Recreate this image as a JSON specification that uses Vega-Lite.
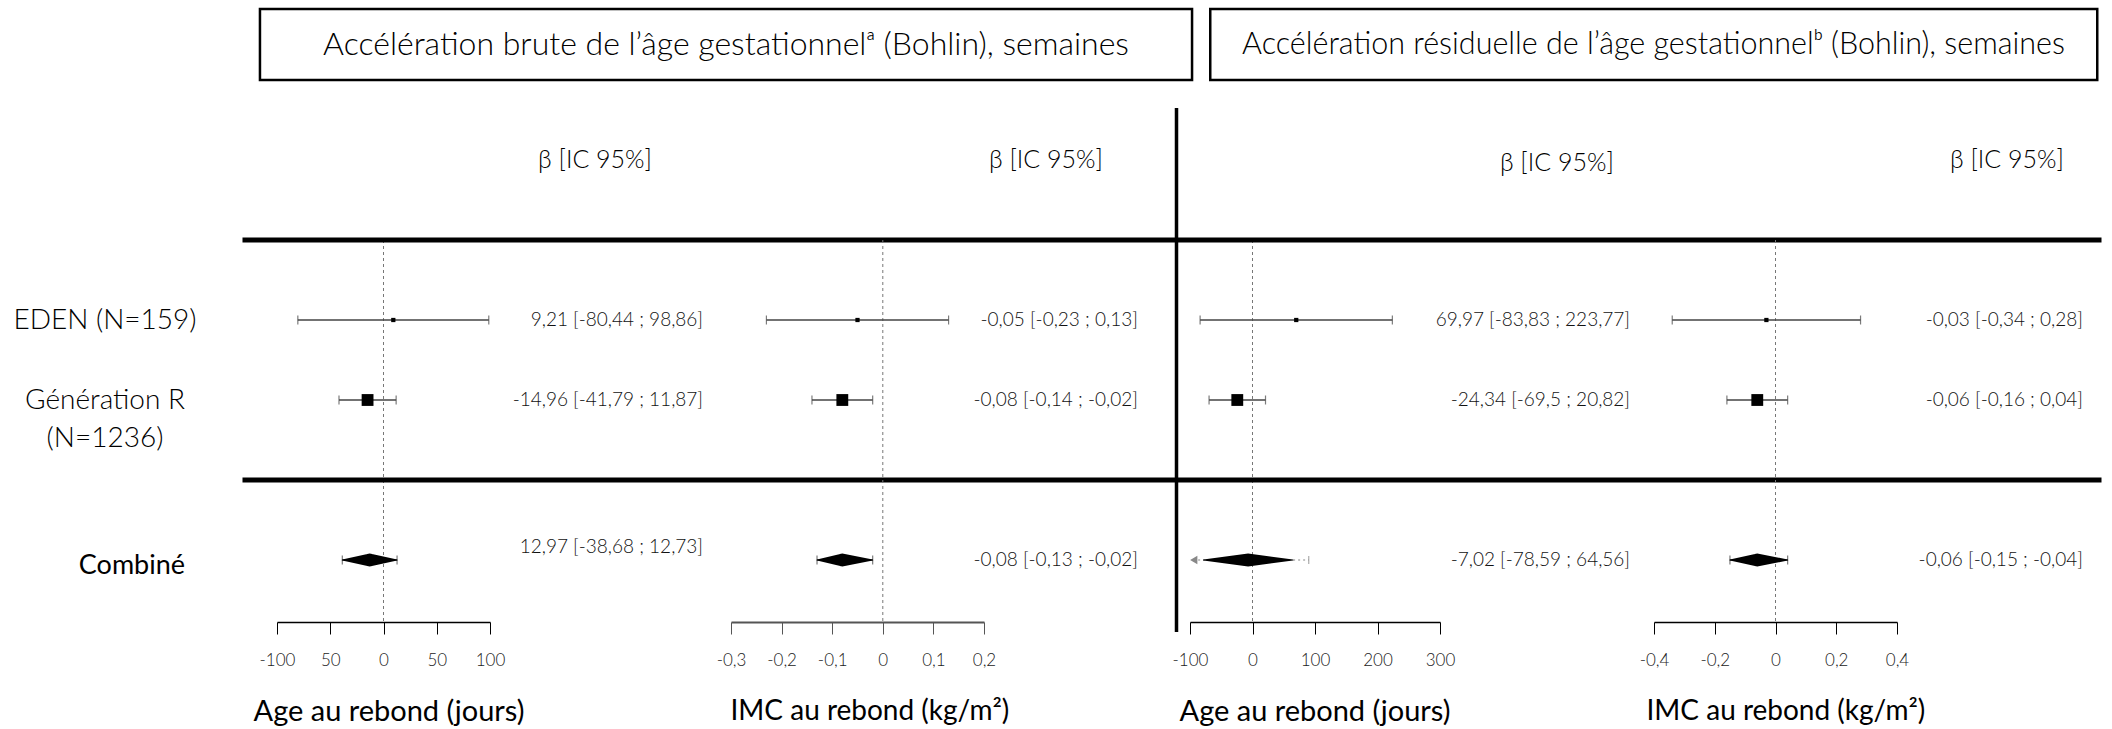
{
  "$schema": "https://vega.github.io/schema/vega-lite/v6.json",
  "width": 2112,
  "height": 729,
  "padding": 0,
  "autosize": {"type": "none"},
  "background": "white",
  "config": {
    "view": {"stroke": null},
    "font": "Lato",
    "axis": {"grid": false, "labelFont": "Lato", "titleFont": "Lato"}
  },
  "datasets": {
    "resultats": [
      {"panneau": "age_brute", "etude": "EDEN (N=159)", "n": 159, "ligne": 2, "type": "étude", "beta": 9.21, "ic_inf": -80.44, "ic_sup": 98.86, "texte": "9,21 [-80,44 ; 98,86]"},
      {"panneau": "age_brute", "etude": "Génération R\n(N=1236)", "n": 1236, "ligne": 3, "type": "étude", "beta": -14.96, "ic_inf": -41.79, "ic_sup": 11.87, "texte": "-14,96 [-41,79 ; 11,87]"},
      {"panneau": "age_brute", "etude": "Combiné", "ligne": 5, "type": "synthèse", "beta": -12.97, "ic_inf": -38.68, "ic_sup": 12.73, "texte": "12,97 [-38,68 ; 12,73]"},
      {"panneau": "imc_brute", "etude": "EDEN (N=159)", "n": 159, "ligne": 2, "type": "étude", "beta": -0.05, "ic_inf": -0.23, "ic_sup": 0.13, "texte": "-0,05 [-0,23 ; 0,13]"},
      {"panneau": "imc_brute", "etude": "Génération R\n(N=1236)", "n": 1236, "ligne": 3, "type": "étude", "beta": -0.08, "ic_inf": -0.14, "ic_sup": -0.02, "texte": "-0,08 [-0,14 ; -0,02]"},
      {"panneau": "imc_brute", "etude": "Combiné", "ligne": 5, "type": "synthèse", "beta": -0.08, "ic_inf": -0.13, "ic_sup": -0.02, "texte": "-0,08 [-0,13 ; -0,02]"},
      {"panneau": "age_resid", "etude": "EDEN (N=159)", "n": 159, "ligne": 2, "type": "étude", "beta": 69.97, "ic_inf": -83.83, "ic_sup": 223.77, "texte": "69,97 [-83,83 ; 223,77]"},
      {"panneau": "age_resid", "etude": "Génération R\n(N=1236)", "n": 1236, "ligne": 3, "type": "étude", "beta": -24.34, "ic_inf": -69.5, "ic_sup": 20.82, "texte": "-24,34 [-69,5 ; 20,82]"},
      {"panneau": "age_resid", "etude": "Combiné", "ligne": 5, "type": "synthèse", "beta": -7.02, "ic_inf": -78.59, "ic_sup": 64.56, "texte": "-7,02 [-78,59 ; 64,56]"},
      {"panneau": "imc_resid", "etude": "EDEN (N=159)", "n": 159, "ligne": 2, "type": "étude", "beta": -0.03, "ic_inf": -0.34, "ic_sup": 0.28, "texte": "-0,03 [-0,34 ; 0,28]"},
      {"panneau": "imc_resid", "etude": "Génération R\n(N=1236)", "n": 1236, "ligne": 3, "type": "étude", "beta": -0.06, "ic_inf": -0.16, "ic_sup": 0.04, "texte": "-0,06 [-0,16 ; 0,04]"},
      {"panneau": "imc_resid", "etude": "Combiné", "ligne": 5, "type": "synthèse", "beta": -0.06, "ic_inf": -0.15, "ic_sup": 0.04, "texte": "-0,06 [-0,15 ; -0,04]"}
    ],
    "groupes": [
      {"groupe": "brute", "titre": "Accélération brute de l’âge gestationnelᵃ (Bohlin), semaines"},
      {"groupe": "résiduelle", "titre": "Accélération résiduelle de l’âge gestationnelᵇ (Bohlin), semaines"}
    ]
  },
  "data": {"name": "resultats"},
  "layer": [
    {
      "layer": [
        {
          "data": {"values": [{}]},
          "mark": {"type": "rule", "stroke": "#777", "strokeWidth": 1, "strokeDash": [3, 3]},
          "encoding": {
            "x": {"datum": 0, "type": "quantitative",
              "scale": {"domain": [-100, 100], "range": [277, 490], "nice": false, "zero": false},
              "axis": {"orient": "bottom", "offset": -107, "values": [-100, -50, 0, 50, 100],
                "labelExpr": "datum.value === -50 ? '50' : replace(format(datum.value, '~g'), '\u2212', '-')",
                "title": "Age au rebond (jours)", "titleX": 253, "titleY": 89, "titleAlign": "left", "titleBaseline": "middle",
                "titleFontSize": 29, "titleFontWeight": 400, "titleColor": "black",
                "tickSize": 12, "tickColor": "black", "tickWidth": 1, "domainColor": "black", "domainWidth": 1.5,
                "labelPadding": 18, "labelFontSize": 17, "labelFontWeight": 300, "labelColor": "#222", "labelFlush": false, "labelOverlap": false}},
            "y": {"datum": 1, "type": "quantitative", "scale": {"domain": [-2, 7.1125], "reverse": true, "nice": false, "zero": false}, "axis": null},
            "y2": {"datum": 5.775}
          }
        },
        {
          "data": {"values": [{}]},
          "mark": {"type": "rule", "stroke": "black", "strokeWidth": 5},
          "encoding": {
            "x": {"datum": -132.4, "type": "quantitative"}, "x2": {"datum": 744.6},
            "y": {"datum": 1, "type": "quantitative", "axis": null}
          }
        },
        {
          "data": {"values": [{}]},
          "mark": {"type": "rule", "stroke": "black", "strokeWidth": 5},
          "encoding": {
            "x": {"datum": -132.4, "type": "quantitative"}, "x2": {"datum": 744.6},
            "y": {"datum": 4, "type": "quantitative", "axis": null}
          }
        },
        {
          "data": {"name": "groupes"},
          "transform": [{"filter": "datum.groupe === 'brute'"}],
          "mark": {"type": "rect", "fill": "white", "stroke": "black", "strokeWidth": 2.5},
          "encoding": {
            "x": {"datum": -116, "type": "quantitative"}, "x2": {"datum": 759.2},
            "y": {"datum": -1.8875, "type": "quantitative", "axis": null}, "y2": {"datum": -1}
          }
        },
        {
          "data": {"name": "groupes"},
          "transform": [{"filter": "datum.groupe === 'brute'"}],
          "mark": {"type": "text", "fontSize": 32, "fontWeight": 300, "baseline": "middle", "align": "center", "color": "black"},
          "encoding": {
            "x": {"datum": 321.6, "type": "quantitative"},
            "y": {"datum": -1.44375, "type": "quantitative", "axis": null},
            "text": {"field": "titre"}
          }
        },
        {
          "data": {"values": [{}]},
          "mark": {"type": "text", "fontSize": 25, "fontWeight": 300, "baseline": "middle", "align": "center", "color": "black"},
          "encoding": {
            "x": {"datum": 198.6, "type": "quantitative"},
            "y": {"datum": 0, "type": "quantitative", "axis": null},
            "text": {"value": "β [IC 95%]"}
          }
        },
        {
          "transform": [{"filter": "datum.panneau === 'age_brute' && datum.type === 'étude'"}],
          "mark": {"type": "text", "fontSize": 28, "fontWeight": 300, "align": "center", "baseline": "alphabetic", "dy": 9, "lineBreak": "\n", "lineHeight": 38, "color": "black"},
          "encoding": {
            "x": {"datum": -261.5, "type": "quantitative"},
            "y": {"field": "ligne", "type": "quantitative", "axis": null},
            "text": {"field": "etude"}
          }
        },
        {
          "transform": [{"filter": "datum.panneau === 'age_brute' && datum.type === 'synthèse'"}],
          "mark": {"type": "text", "fontSize": 27, "fontWeight": 400, "align": "center", "baseline": "middle", "dy": 6, "color": "black"},
          "encoding": {
            "x": {"datum": -236.2, "type": "quantitative"},
            "y": {"field": "ligne", "type": "quantitative", "axis": null},
            "text": {"field": "etude"}
          }
        },
        {
          "transform": [{"filter": "datum.panneau === 'age_brute'"}],
          "mark": {"type": "rule", "stroke": "#444", "strokeWidth": 1.5},
          "encoding": {
            "x": {"field": "ic_inf", "type": "quantitative"}, "x2": {"field": "ic_sup"},
            "y": {"field": "ligne", "type": "quantitative", "axis": null}
          }
        },
        {
          "transform": [{"filter": "datum.panneau === 'age_brute'"}],
          "mark": {"type": "tick", "orient": "vertical", "size": 9, "thickness": 1.2, "color": "#444"},
          "encoding": {
            "x": {"field": "ic_inf", "type": "quantitative"},
            "y": {"field": "ligne", "type": "quantitative", "axis": null}
          }
        },
        {
          "transform": [{"filter": "datum.panneau === 'age_brute'"}],
          "mark": {"type": "tick", "orient": "vertical", "size": 9, "thickness": 1.2, "color": "#444"},
          "encoding": {
            "x": {"field": "ic_sup", "type": "quantitative"},
            "y": {"field": "ligne", "type": "quantitative", "axis": null}
          }
        },
        {
          "transform": [{"filter": "datum.panneau === 'age_brute' && datum.type === 'étude'"}],
          "mark": {"type": "point", "shape": "square", "filled": true, "color": "black", "opacity": 1},
          "encoding": {
            "x": {"field": "beta", "type": "quantitative"},
            "y": {"field": "ligne", "type": "quantitative", "axis": null},
            "size": {"field": "n", "type": "quantitative", "scale": {"domain": [0, 1236], "range": [0, 140]}, "legend": null}
          }
        },
        {
          "transform": [
            {"filter": "datum.panneau === 'age_brute' && datum.type === 'synthèse'"},
            {"fold": ["ic_inf", "beta", "ic_sup"], "as": ["borne", "valeur"]}
          ],
          "mark": {"type": "trail", "color": "black"},
          "encoding": {
            "x": {"field": "valeur", "type": "quantitative"},
            "y": {"field": "ligne", "type": "quantitative", "axis": null},
            "order": {"field": "valeur", "type": "quantitative"},
            "size": {"condition": {"test": "datum.borne === 'beta'", "value": 13}, "value": 0}
          }
        },
        {
          "transform": [{"filter": "datum.panneau === 'age_brute' && datum.type === 'étude'"}],
          "mark": {"type": "text", "fontSize": 19, "fontWeight": 300, "align": "right", "baseline": "middle", "color": "#111"},
          "encoding": {
            "x": {"datum": 300, "type": "quantitative"},
            "y": {"field": "ligne", "type": "quantitative", "axis": null},
            "text": {"field": "texte"}
          }
        },
        {
          "transform": [{"filter": "datum.panneau === 'age_brute' && datum.type === 'synthèse'"}],
          "mark": {"type": "text", "fontSize": 19, "fontWeight": 300, "align": "right", "baseline": "middle", "dy": -13, "color": "#111"},
          "encoding": {
            "x": {"datum": 300, "type": "quantitative"},
            "y": {"field": "ligne", "type": "quantitative", "axis": null},
            "text": {"field": "texte"}
          }
        }
      ],
      "resolve": {"scale": {"size": "independent"}}
    },
    {
      "layer": [
        {
          "data": {"values": [{}]},
          "mark": {"type": "rule", "stroke": "#777", "strokeWidth": 1, "strokeDash": [3, 3]},
          "encoding": {
            "x": {"datum": 0, "type": "quantitative",
              "scale": {"domain": [-0.3, 0.2], "range": [731, 984], "nice": false, "zero": false},
              "axis": {"orient": "bottom", "offset": -107, "values": [-0.3, -0.2, -0.1, 0, 0.1, 0.2],
                "labelExpr": "replace(replace(format(datum.value, '~g'), '.', ','), '\u2212', '-')",
                "title": "IMC au rebond (kg/m²)", "titleX": 730, "titleY": 89, "titleAlign": "left", "titleBaseline": "middle",
                "titleFontSize": 28, "titleFontWeight": 400, "titleColor": "black",
                "tickSize": 12, "tickColor": "#555", "tickWidth": 1, "domainColor": "#555", "domainWidth": 2,
                "labelPadding": 18, "labelFontSize": 17, "labelFontWeight": 300, "labelColor": "#222", "labelFlush": false, "labelOverlap": false}},
            "y": {"datum": 1, "type": "quantitative", "scale": {"domain": [-2, 7.1125], "reverse": true, "nice": false, "zero": false}, "axis": null},
            "y2": {"datum": 5.775}
          }
        },
        {
          "data": {"values": [{}]},
          "mark": {"type": "text", "fontSize": 25, "fontWeight": 300, "baseline": "middle", "align": "center", "color": "black"},
          "encoding": {
            "x": {"datum": 0.3225, "type": "quantitative"},
            "y": {"datum": 0, "type": "quantitative", "axis": null},
            "text": {"value": "β [IC 95%]"}
          }
        },
        {
          "transform": [{"filter": "datum.panneau === 'imc_brute'"}],
          "mark": {"type": "rule", "stroke": "#444", "strokeWidth": 1.5},
          "encoding": {
            "x": {"field": "ic_inf", "type": "quantitative"}, "x2": {"field": "ic_sup"},
            "y": {"field": "ligne", "type": "quantitative", "axis": null}
          }
        },
        {
          "transform": [{"filter": "datum.panneau === 'imc_brute'"}],
          "mark": {"type": "tick", "orient": "vertical", "size": 9, "thickness": 1.2, "color": "#444"},
          "encoding": {
            "x": {"field": "ic_inf", "type": "quantitative"},
            "y": {"field": "ligne", "type": "quantitative", "axis": null}
          }
        },
        {
          "transform": [{"filter": "datum.panneau === 'imc_brute'"}],
          "mark": {"type": "tick", "orient": "vertical", "size": 9, "thickness": 1.2, "color": "#444"},
          "encoding": {
            "x": {"field": "ic_sup", "type": "quantitative"},
            "y": {"field": "ligne", "type": "quantitative", "axis": null}
          }
        },
        {
          "transform": [{"filter": "datum.panneau === 'imc_brute' && datum.type === 'étude'"}],
          "mark": {"type": "point", "shape": "square", "filled": true, "color": "black", "opacity": 1},
          "encoding": {
            "x": {"field": "beta", "type": "quantitative"},
            "y": {"field": "ligne", "type": "quantitative", "axis": null},
            "size": {"field": "n", "type": "quantitative", "scale": {"domain": [0, 1236], "range": [0, 140]}, "legend": null}
          }
        },
        {
          "transform": [
            {"filter": "datum.panneau === 'imc_brute' && datum.type === 'synthèse'"},
            {"fold": ["ic_inf", "beta", "ic_sup"], "as": ["borne", "valeur"]}
          ],
          "mark": {"type": "trail", "color": "black"},
          "encoding": {
            "x": {"field": "valeur", "type": "quantitative"},
            "y": {"field": "ligne", "type": "quantitative", "axis": null},
            "order": {"field": "valeur", "type": "quantitative"},
            "size": {"condition": {"test": "datum.borne === 'beta'", "value": 13}, "value": 0}
          }
        },
        {
          "transform": [{"filter": "datum.panneau === 'imc_brute'"}],
          "mark": {"type": "text", "fontSize": 19, "fontWeight": 300, "align": "right", "baseline": "middle", "color": "#111"},
          "encoding": {
            "x": {"datum": 0.504, "type": "quantitative"},
            "y": {"field": "ligne", "type": "quantitative", "axis": null},
            "text": {"field": "texte"}
          }
        }
      ],
      "resolve": {"scale": {"size": "independent"}}
    },
    {
      "layer": [
        {
          "data": {"values": [{}]},
          "mark": {"type": "rule", "stroke": "#777", "strokeWidth": 1, "strokeDash": [3, 3]},
          "encoding": {
            "x": {"datum": 0, "type": "quantitative",
              "scale": {"domain": [-100, 300], "range": [1190, 1440], "nice": false, "zero": false},
              "axis": {"orient": "bottom", "offset": -107, "values": [-100, 0, 100, 200, 300],
                "labelExpr": "replace(format(datum.value, '~g'), '\u2212', '-')",
                "title": "Age au rebond (jours)", "titleX": 1179, "titleY": 89, "titleAlign": "left", "titleBaseline": "middle",
                "titleFontSize": 29, "titleFontWeight": 400, "titleColor": "black",
                "tickSize": 12, "tickColor": "black", "tickWidth": 1, "domainColor": "black", "domainWidth": 1.5,
                "labelPadding": 18, "labelFontSize": 17, "labelFontWeight": 300, "labelColor": "#222", "labelFlush": false, "labelOverlap": false}},
            "y": {"datum": 1, "type": "quantitative", "scale": {"domain": [-2, 7.1125], "reverse": true, "nice": false, "zero": false}, "axis": null},
            "y2": {"datum": 5.775}
          }
        },
        {
          "data": {"values": [{}]},
          "mark": {"type": "rule", "stroke": "black", "strokeWidth": 5},
          "encoding": {
            "x": {"datum": -121.6, "type": "quantitative"}, "x2": {"datum": 1358.4},
            "y": {"datum": 1, "type": "quantitative", "axis": null}
          }
        },
        {
          "data": {"values": [{}]},
          "mark": {"type": "rule", "stroke": "black", "strokeWidth": 5},
          "encoding": {
            "x": {"datum": -121.6, "type": "quantitative"}, "x2": {"datum": 1358.4},
            "y": {"datum": 4, "type": "quantitative", "axis": null}
          }
        },
        {
          "data": {"values": [{}]},
          "mark": {"type": "rule", "stroke": "black", "strokeWidth": 3.5},
          "encoding": {
            "x": {"datum": -121.6, "type": "quantitative"},
            "y": {"datum": -0.65, "type": "quantitative", "axis": null}, "y2": {"datum": 5.9}
          }
        },
        {
          "data": {"name": "groupes"},
          "transform": [{"filter": "datum.groupe === 'résiduelle'"}],
          "mark": {"type": "rect", "fill": "white", "stroke": "black", "strokeWidth": 2.5},
          "encoding": {
            "x": {"datum": -67.6, "type": "quantitative"}, "x2": {"datum": 1351.6},
            "y": {"datum": -1.8875, "type": "quantitative", "axis": null}, "y2": {"datum": -1}
          }
        },
        {
          "data": {"name": "groupes"},
          "transform": [{"filter": "datum.groupe === 'résiduelle'"}],
          "mark": {"type": "text", "fontSize": 30.5, "fontWeight": 300, "baseline": "middle", "align": "center", "color": "black"},
          "encoding": {
            "x": {"datum": 641.6, "type": "quantitative"},
            "y": {"datum": -1.44375, "type": "quantitative", "axis": null},
            "text": {"field": "titre"}
          }
        },
        {
          "data": {"values": [{}]},
          "mark": {"type": "text", "fontSize": 25, "fontWeight": 300, "baseline": "middle", "align": "center", "color": "black"},
          "encoding": {
            "x": {"datum": 487, "type": "quantitative"},
            "y": {"datum": 0.04, "type": "quantitative", "axis": null},
            "text": {"value": "β [IC 95%]"}
          }
        },
        {
          "data": {"values": [{}]},
          "mark": {"type": "rule", "stroke": "#888", "strokeWidth": 1.2, "strokeDash": [2, 3]},
          "encoding": {
            "x": {"datum": -95, "type": "quantitative"}, "x2": {"datum": 90},
            "y": {"datum": 5, "type": "quantitative", "axis": null}
          }
        },
        {
          "data": {"values": [{}]},
          "mark": {"type": "point", "shape": "triangle-left", "filled": true, "color": "#888", "opacity": 1, "size": 70},
          "encoding": {
            "x": {"datum": -94, "type": "quantitative"},
            "y": {"datum": 5, "type": "quantitative", "axis": null}
          }
        },
        {
          "data": {"values": [{}]},
          "mark": {"type": "tick", "orient": "vertical", "size": 8, "thickness": 1.2, "color": "#888"},
          "encoding": {
            "x": {"datum": 90, "type": "quantitative"},
            "y": {"datum": 5, "type": "quantitative", "axis": null}
          }
        },
        {
          "transform": [{"filter": "datum.panneau === 'age_resid' && datum.type === 'étude'"}],
          "mark": {"type": "rule", "stroke": "#444", "strokeWidth": 1.5},
          "encoding": {
            "x": {"field": "ic_inf", "type": "quantitative"}, "x2": {"field": "ic_sup"},
            "y": {"field": "ligne", "type": "quantitative", "axis": null}
          }
        },
        {
          "transform": [{"filter": "datum.panneau === 'age_resid' && datum.type === 'étude'"}],
          "mark": {"type": "tick", "orient": "vertical", "size": 9, "thickness": 1.2, "color": "#444"},
          "encoding": {
            "x": {"field": "ic_inf", "type": "quantitative"},
            "y": {"field": "ligne", "type": "quantitative", "axis": null}
          }
        },
        {
          "transform": [{"filter": "datum.panneau === 'age_resid' && datum.type === 'étude'"}],
          "mark": {"type": "tick", "orient": "vertical", "size": 9, "thickness": 1.2, "color": "#444"},
          "encoding": {
            "x": {"field": "ic_sup", "type": "quantitative"},
            "y": {"field": "ligne", "type": "quantitative", "axis": null}
          }
        },
        {
          "transform": [{"filter": "datum.panneau === 'age_resid' && datum.type === 'étude'"}],
          "mark": {"type": "point", "shape": "square", "filled": true, "color": "black", "opacity": 1},
          "encoding": {
            "x": {"field": "beta", "type": "quantitative"},
            "y": {"field": "ligne", "type": "quantitative", "axis": null},
            "size": {"field": "n", "type": "quantitative", "scale": {"domain": [0, 1236], "range": [0, 140]}, "legend": null}
          }
        },
        {
          "transform": [
            {"filter": "datum.panneau === 'age_resid' && datum.type === 'synthèse'"},
            {"fold": ["ic_inf", "beta", "ic_sup"], "as": ["borne", "valeur"]}
          ],
          "mark": {"type": "trail", "color": "black"},
          "encoding": {
            "x": {"field": "valeur", "type": "quantitative"},
            "y": {"field": "ligne", "type": "quantitative", "axis": null},
            "order": {"field": "valeur", "type": "quantitative"},
            "size": {"condition": {"test": "datum.borne === 'beta'", "value": 13}, "value": 0}
          }
        },
        {
          "transform": [{"filter": "datum.panneau === 'age_resid'"}],
          "mark": {"type": "text", "fontSize": 19, "fontWeight": 300, "align": "right", "baseline": "middle", "color": "#111"},
          "encoding": {
            "x": {"datum": 604, "type": "quantitative"},
            "y": {"field": "ligne", "type": "quantitative", "axis": null},
            "text": {"field": "texte"}
          }
        }
      ],
      "resolve": {"scale": {"size": "independent"}}
    },
    {
      "layer": [
        {
          "data": {"values": [{}]},
          "mark": {"type": "rule", "stroke": "#777", "strokeWidth": 1, "strokeDash": [3, 3]},
          "encoding": {
            "x": {"datum": 0, "type": "quantitative",
              "scale": {"domain": [-0.4, 0.4], "range": [1654, 1897], "nice": false, "zero": false},
              "axis": {"orient": "bottom", "offset": -107, "values": [-0.4, -0.2, 0, 0.2, 0.4],
                "labelExpr": "replace(replace(format(datum.value, '~g'), '.', ','), '\u2212', '-')",
                "title": "IMC au rebond (kg/m²)", "titleX": 1646, "titleY": 89, "titleAlign": "left", "titleBaseline": "middle",
                "titleFontSize": 28, "titleFontWeight": 400, "titleColor": "black",
                "tickSize": 12, "tickColor": "black", "tickWidth": 1, "domainColor": "black", "domainWidth": 1.5,
                "labelPadding": 18, "labelFontSize": 17, "labelFontWeight": 300, "labelColor": "#222", "labelFlush": false, "labelOverlap": false}},
            "y": {"datum": 1, "type": "quantitative", "scale": {"domain": [-2, 7.1125], "reverse": true, "nice": false, "zero": false}, "axis": null},
            "y2": {"datum": 5.775}
          }
        },
        {
          "data": {"values": [{}]},
          "mark": {"type": "text", "fontSize": 25, "fontWeight": 300, "baseline": "middle", "align": "center", "color": "black"},
          "encoding": {
            "x": {"datum": 0.762, "type": "quantitative"},
            "y": {"datum": 0, "type": "quantitative", "axis": null},
            "text": {"value": "β [IC 95%]"}
          }
        },
        {
          "transform": [{"filter": "datum.panneau === 'imc_resid'"}],
          "mark": {"type": "rule", "stroke": "#444", "strokeWidth": 1.5},
          "encoding": {
            "x": {"field": "ic_inf", "type": "quantitative"}, "x2": {"field": "ic_sup"},
            "y": {"field": "ligne", "type": "quantitative", "axis": null}
          }
        },
        {
          "transform": [{"filter": "datum.panneau === 'imc_resid'"}],
          "mark": {"type": "tick", "orient": "vertical", "size": 9, "thickness": 1.2, "color": "#444"},
          "encoding": {
            "x": {"field": "ic_inf", "type": "quantitative"},
            "y": {"field": "ligne", "type": "quantitative", "axis": null}
          }
        },
        {
          "transform": [{"filter": "datum.panneau === 'imc_resid'"}],
          "mark": {"type": "tick", "orient": "vertical", "size": 9, "thickness": 1.2, "color": "#444"},
          "encoding": {
            "x": {"field": "ic_sup", "type": "quantitative"},
            "y": {"field": "ligne", "type": "quantitative", "axis": null}
          }
        },
        {
          "transform": [{"filter": "datum.panneau === 'imc_resid' && datum.type === 'étude'"}],
          "mark": {"type": "point", "shape": "square", "filled": true, "color": "black", "opacity": 1},
          "encoding": {
            "x": {"field": "beta", "type": "quantitative"},
            "y": {"field": "ligne", "type": "quantitative", "axis": null},
            "size": {"field": "n", "type": "quantitative", "scale": {"domain": [0, 1236], "range": [0, 140]}, "legend": null}
          }
        },
        {
          "transform": [
            {"filter": "datum.panneau === 'imc_resid' && datum.type === 'synthèse'"},
            {"fold": ["ic_inf", "beta", "ic_sup"], "as": ["borne", "valeur"]}
          ],
          "mark": {"type": "trail", "color": "black"},
          "encoding": {
            "x": {"field": "valeur", "type": "quantitative"},
            "y": {"field": "ligne", "type": "quantitative", "axis": null},
            "order": {"field": "valeur", "type": "quantitative"},
            "size": {"condition": {"test": "datum.borne === 'beta'", "value": 13}, "value": 0}
          }
        },
        {
          "transform": [{"filter": "datum.panneau === 'imc_resid'"}],
          "mark": {"type": "text", "fontSize": 19, "fontWeight": 300, "align": "right", "baseline": "middle", "color": "#111"},
          "encoding": {
            "x": {"datum": 1.012, "type": "quantitative"},
            "y": {"field": "ligne", "type": "quantitative", "axis": null},
            "text": {"field": "texte"}
          }
        }
      ],
      "resolve": {"scale": {"size": "independent"}}
    }
  ],
  "resolve": {"scale": {"x": "independent", "size": "independent"}, "axis": {"x": "independent"}}
}
